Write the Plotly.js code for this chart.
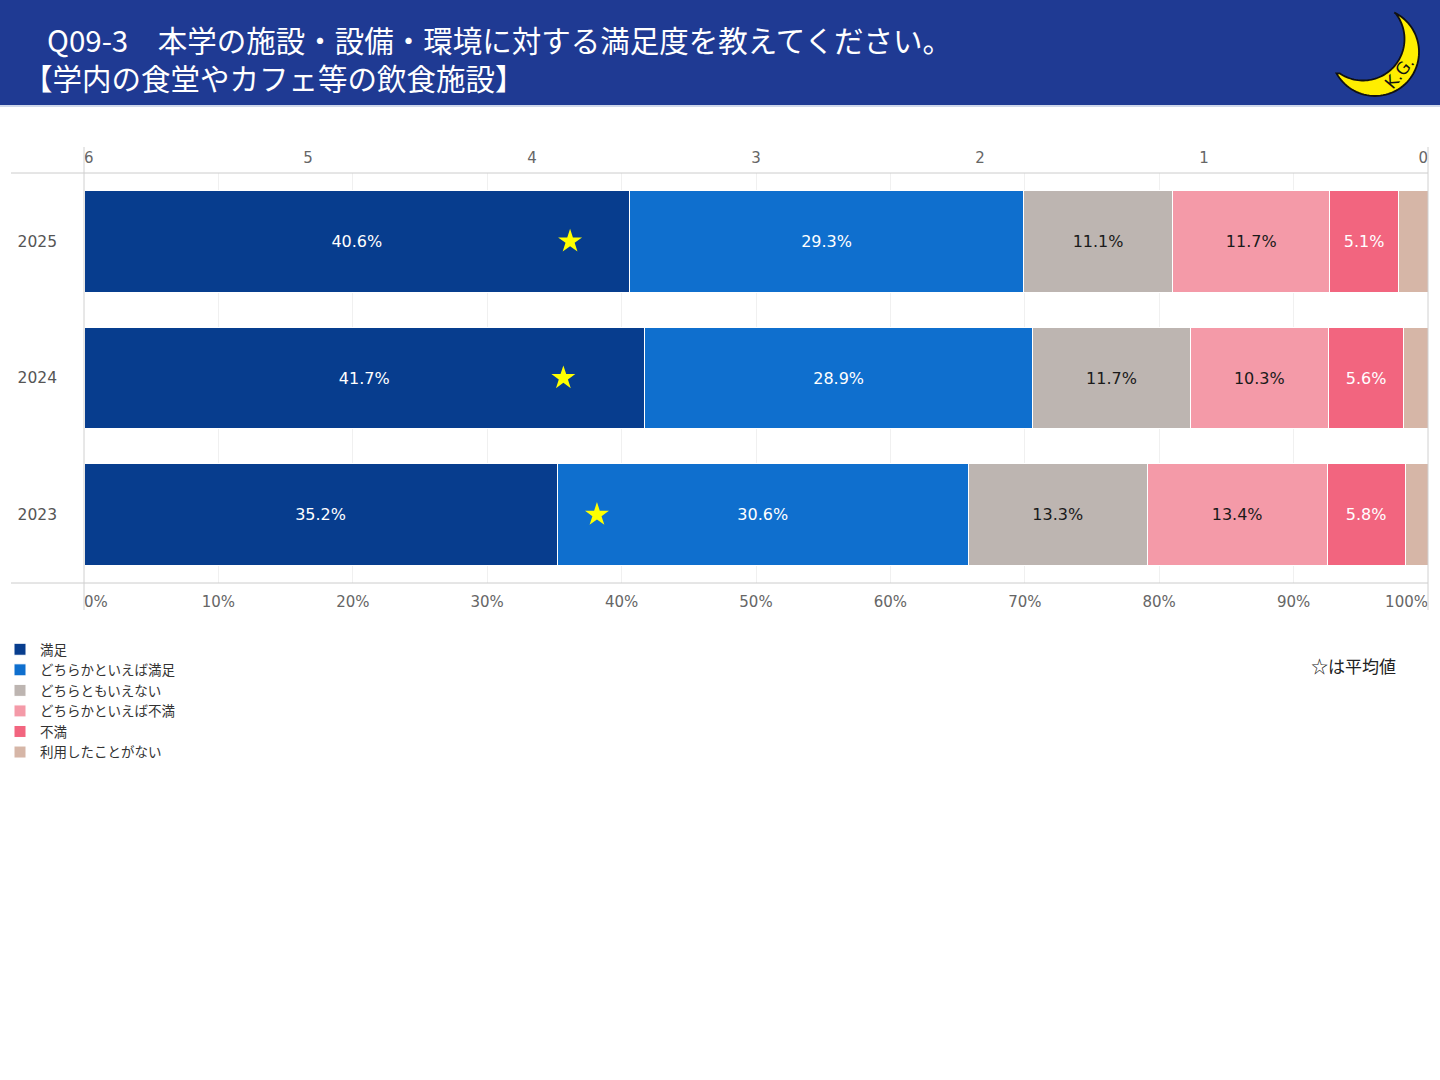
<!DOCTYPE html>
<html>
<head>
<meta charset="utf-8">
<script src="https://cdn.plot.ly/plotly-3.0.1.min.js"></script>
<style>
  html, body { margin: 0; padding: 0; background: #fff; }
  #chart { width: 1440px; height: 1080px; }
</style>
</head>
<body>
<div id="chart"></div>
<script>
// ---- data ----
const years = ['2025', '2024', '2023'];
const seriesNames = ['満足', 'どちらかといえば満足', 'どちらともいえない', 'どちらかといえば不満', '不満', '利用したことがない'];
const satisfied          = [40.6, 41.7, 35.2];
const ratherSatisfied    = [29.3, 28.9, 30.6];
const neutral            = [11.1, 11.7, 13.3];
const ratherDissatisfied = [11.7, 10.3, 13.4];
const dissatisfied       = [5.1, 5.6, 5.8];
const neverUsed          = [2.2, 1.8, 1.7];
const meanScores         = [3.83, 3.86, 3.71];
const topTickVals    = [5, 4, 3, 2, 1];
const topTickText    = ['5', '4', '3', '2', '1'];
const topEndVals     = [6, 0];
const topEndText     = ['6', '0'];
const bottomTickVals = [10, 20, 30, 40, 50, 60, 70, 80, 90];
const bottomTickText = ['10%', '20%', '30%', '40%', '50%', '60%', '70%', '80%', '90%'];
const bottomEndVals  = [0, 100];
const bottomEndText  = ['0%', '100%'];
const titleLine1 = 'Q09-3\u3000本学の施設・設備・環境に対する満足度を教えてください。';
const titleLine2 = '【学内の食堂やカフェ等の飲食施設】';
const noteText = '☆は平均値';

// ---- styles ----
const seriesValues = [satisfied, ratherSatisfied, neutral, ratherDissatisfied, dissatisfied, neverUsed];
const colors = ['#073d8e', '#0f6fce', '#bdb5b1', '#f49aa8', '#f2657f', '#d6b6a7'];
const textColors = ['#ffffff', '#ffffff', '#1a1a1a', '#1a1a1a', '#ffffff', '#1a1a1a'];
const showText = [true, true, true, true, true, false];
const NUM_FONT = 'DejaVu Sans, Noto Sans CJK JP, sans-serif';
const JP_FONT = 'Noto Sans CJK JP, DejaVu Sans, sans-serif';

// plot area in pixels
const L = 84, R = 1428, T = 173, B = 583;
const W = R - L, H = B - T;
const px = x => (x - L) / W;
const py = y => (B - y) / H;

const traces = seriesNames.map((name, i) => ({
  type: 'bar',
  orientation: 'h',
  name: name,
  y: years,
  x: seriesValues[i],
  xaxis: 'x',
  yaxis: 'y',
  marker: { color: colors[i], line: { color: '#ffffff', width: 1 } },
  text: seriesValues[i].map(v => showText[i] ? v.toFixed(1) + '%' : ''),
  textposition: showText[i] ? 'inside' : 'none',
  insidetextanchor: 'middle',
  textangle: 0,
  constraintext: 'none',
  textfont: { family: NUM_FONT, size: 16, color: textColors[i] },
  hoverinfo: 'skip'
}));

traces.push({
  type: 'scatter',
  mode: 'markers',
  x: meanScores,
  y: years,
  xaxis: 'x2',
  yaxis: 'y',
  marker: { symbol: 'star', size: 18, color: '#ffff00', line: { width: 0 } },
  showlegend: false,
  hoverinfo: 'skip'
});

// invisible anchors so the end-label axes are drawn
[['x3', bottomEndVals[0]], ['x4', bottomEndVals[1]], ['x5', topEndVals[0]], ['x6', topEndVals[1]]].forEach(([ax, v]) => {
  traces.push({
    type: 'scatter', mode: 'markers', x: [v], y: [years[0]], xaxis: ax, yaxis: 'y',
    marker: { size: 1, opacity: 0 }, showlegend: false, hoverinfo: 'skip'
  });
});

// crescent moon logo path (pixel geometry -> paper coords)
function arcPts(cx, cy, r, a0, a1, n) {
  const pts = [];
  for (let k = 0; k <= n; k++) {
    const a = (a0 + (a1 - a0) * k / n) * Math.PI / 180;
    pts.push([cx + r * Math.cos(a), cy + r * Math.sin(a)]);
  }
  return pts;
}
const outer = arcPts(1375, 52, 44, -64, 151, 60);
const inner = arcPts(1363, 39, 41.5, 124, -38, 60);
const moonPts = outer.concat(inner);
const moonPath = moonPts.map((p, k) => (k === 0 ? 'M' : 'L') + px(p[0]).toFixed(5) + ',' + py(p[1]).toFixed(5)).join(' ') + ' Z';

const shapes = [
  { type: 'rect', xref: 'paper', yref: 'paper', x0: px(0), x1: px(1440), y0: py(105), y1: py(0),
    fillcolor: '#1f3a93', line: { width: 0 } },
  { type: 'rect', xref: 'paper', yref: 'paper', x0: px(0), x1: px(1440), y0: py(107), y1: py(105),
    fillcolor: '#cfd8ea', line: { width: 0 } },
  { type: 'path', xref: 'paper', yref: 'paper', path: moonPath,
    fillcolor: '#ffee00', line: { color: '#111111', width: 1.8 } },
  { type: 'line', xref: 'paper', yref: 'paper', x0: px(11), x1: px(1428), y0: py(173), y1: py(173),
    line: { color: '#cccccc', width: 1 } },
  { type: 'line', xref: 'paper', yref: 'paper', x0: px(11), x1: px(1428), y0: py(583), y1: py(583),
    line: { color: '#cccccc', width: 1 } },
  { type: 'line', xref: 'paper', yref: 'paper', x0: px(84), x1: px(84), y0: py(147), y1: py(610),
    line: { color: '#d0d0d0', width: 1 } },
  { type: 'line', xref: 'paper', yref: 'paper', x0: px(1428), x1: px(1428), y0: py(147), y1: py(610),
    line: { color: '#d0d0d0', width: 1 } }
];

const annotations = [
  { xref: 'paper', yref: 'paper', x: px(21), y: py(58), xanchor: 'left', yanchor: 'middle', align: 'left',
    text: '<span style="font-size:24px">\u3000</span>' + titleLine1 + '<br>' + titleLine2,
    showarrow: false, font: { family: JP_FONT, size: 29.5, color: '#ffffff' } },
  { xref: 'paper', yref: 'paper', x: px(1399), y: py(73), xanchor: 'center', yanchor: 'middle',
    text: 'K.G.', textangle: -50, showarrow: false,
    font: { family: 'DejaVu Sans, sans-serif', size: 17, color: '#111111' } },
  { xref: 'paper', yref: 'paper', x: px(1309), y: py(665), xanchor: 'left', yanchor: 'middle',
    text: noteText, showarrow: false, font: { family: JP_FONT, size: 17, color: '#222222' } }
];

const tickFont = { family: NUM_FONT, size: 15, color: '#666666' };
function endAxis(side, range, vals, text, pos, standoff) {
  return {
    overlaying: 'x', anchor: 'y', side: side, range: range,
    tickvals: vals, ticktext: text, ticklabelposition: pos,
    showgrid: false, zeroline: false, showline: false, ticks: '',
    ticklabelstandoff: standoff, ticklabeloverflow: 'allow',
    tickfont: tickFont, fixedrange: true
  };
}

const layout = {
  width: 1440,
  height: 1080,
  margin: { l: L, r: 1440 - R, t: T, b: 1080 - B, pad: 0, autoexpand: false },
  paper_bgcolor: '#ffffff',
  plot_bgcolor: '#ffffff',
  barmode: 'stack',
  bargap: 0.255,
  showlegend: true,
  legend: {
    x: px(0), y: py(634), xanchor: 'left', yanchor: 'top',
    orientation: 'v', traceorder: 'normal',
    font: { family: JP_FONT, size: 13.5, color: '#333333' },
    bgcolor: 'rgba(0,0,0,0)', tracegroupgap: 0
  },
  xaxis: {
    range: [0, 100],
    tickvals: bottomTickVals,
    ticktext: bottomTickText,
    showgrid: true,
    gridcolor: '#f0f0f0',
    gridwidth: 1,
    zeroline: false,
    showline: false,
    ticks: '',
    ticklabelstandoff: 8,
    ticklabeloverflow: 'allow',
    tickfont: tickFont,
    fixedrange: true
  },
  xaxis2: {
    overlaying: 'x',
    anchor: 'y',
    side: 'top',
    range: [6, 0],
    tickvals: topTickVals,
    ticktext: topTickText,
    showgrid: false,
    zeroline: false,
    showline: false,
    ticks: '',
    ticklabelstandoff: 6,
    ticklabeloverflow: 'allow',
    tickfont: tickFont,
    fixedrange: true
  },
  xaxis3: endAxis('bottom', [0, 100], [bottomEndVals[0]], [bottomEndText[0]], 'outside right', 8),
  xaxis4: endAxis('bottom', [0, 100], [bottomEndVals[1]], [bottomEndText[1]], 'outside left', 8),
  xaxis5: endAxis('top', [6, 0], [topEndVals[0]], [topEndText[0]], 'outside right', 6),
  xaxis6: endAxis('top', [6, 0], [topEndVals[1]], [topEndText[1]], 'outside left', 6),
  yaxis: {
    type: 'category',
    categoryorder: 'array',
    categoryarray: ['2023', '2024', '2025'],
    showgrid: false,
    zeroline: false,
    showline: false,
    ticks: '',
    ticklabelstandoff: 26,
    tickfont: { family: NUM_FONT, size: 15.5, color: '#555555' },
    fixedrange: true
  },
  shapes: shapes,
  annotations: annotations
};

Plotly.newPlot('chart', traces, layout, { displayModeBar: false, staticPlot: true });
</script>
</body>
</html>
